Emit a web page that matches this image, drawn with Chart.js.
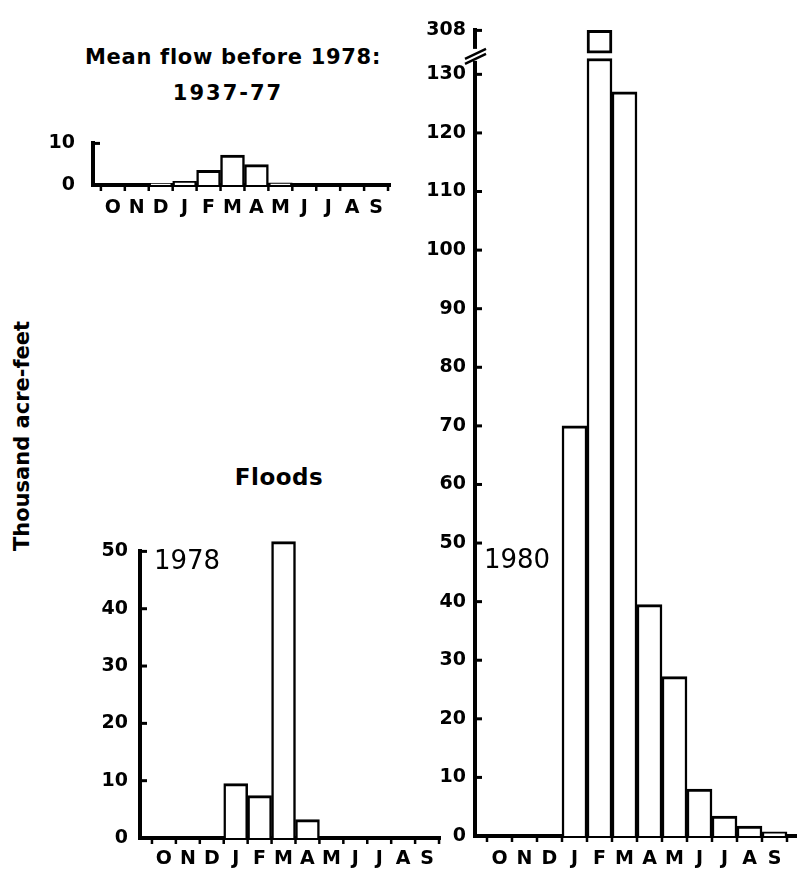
<!DOCTYPE html>
<html>
<head>
<meta charset="utf-8">
<script src="https://cdn.jsdelivr.net/npm/chart.js@4.4.1/dist/chart.umd.min.js"></script>
<style>
  body { margin: 0; background: #fff; }
  #wrap { position: relative; width: 797px; height: 870px; overflow: hidden; font-family: 'DejaVu Sans', sans-serif; color: #000; }
  canvas { position: absolute; }
  .lbl { position: absolute; white-space: nowrap; line-height: 1; transform: translate(-50%, -50%); }
  .b { font-weight: bold; }
</style>
</head>
<body>
<div id="wrap">
  <canvas id="cMean" style="left:40px;top:114px" width="355" height="106"></canvas>
  <canvas id="c1978" style="left:80px;top:528px" width="364" height="342"></canvas>
  <canvas id="c1980" style="left:415px;top:10px" width="382" height="860"></canvas>

  <div class="lbl b" style="left:233px;top:57px;font-size:21px;letter-spacing:0.7px">Mean flow before 1978:</div>
  <div class="lbl b" style="left:228px;top:93px;font-size:21px;letter-spacing:2px">1937-77</div>
  <div class="lbl b" style="left:279px;top:477px;font-size:23px;letter-spacing:0.5px">Floods</div>
  <div class="lbl" style="left:187px;top:560px;font-size:26px">1978</div>
  <div class="lbl" style="left:517px;top:559px;font-size:26px">1980</div>
  <div class="lbl b" style="left:22px;top:436px;font-size:21px;transform:translate(-50%,-50%) rotate(-90deg)">Thousand acre-feet</div>
</div>

<script>
// water years, October to September
const MONTHS = ['O','N','D','J','F','M','A','M','J','J','A','S'];

// thousand acre-feet per month
const MEAN_FLOW  = [0, 0, 0.4, 0.9, 3.5, 7.2, 4.9, 0.5, 0, 0, 0, 0];
const FLOOD_1978 = [0, 0, 0, 9.5, 7.4, 51.7, 3.2, 0, 0, 0, 0, 0];
const FLOOD_1980 = [0, 0, 0, 70, 308, 127, 39.5, 27.2, 8, 3.4, 1.7, 0.7];

const MEAN_TICKS = [0, 10];
const TICKS_1978 = [0, 10, 20, 30, 40, 50];
const TICKS_1980 = [0, 10, 20, 30, 40, 50, 60, 70, 80, 90, 100, 110, 120, 130];

// broken axis on the 1980 panel: top tick shows 308
const TOP_LABEL  = 308;
const TOP_POS    = 137.5;
const BREAK_LOW  = 132.7;
const BREAK_HIGH = 133.6;

const BOLD = { family: 'DejaVu Sans', weight: 'bold', size: 19 };

// inward y ticks and month-edge ticks under the x axis
const axisMarks = {
  id: 'axisMarks',
  afterDraw(chart) {
    const { ctx, chartArea: a, scales: { x, y } } = chart;
    ctx.save();
    ctx.strokeStyle = '#000';
    ctx.lineWidth = 3;
    y.ticks.forEach(t => {
      if (t.value === 0) return;
      const py = y.getPixelForValue(t.value);
      ctx.beginPath(); ctx.moveTo(a.left, py); ctx.lineTo(a.left + 7, py); ctx.stroke();
    });
    ctx.lineWidth = 2.5;
    for (let i = 0; i <= MONTHS.length; i++) {
      const px = x.getPixelForValue(i);
      ctx.beginPath(); ctx.moveTo(px, a.bottom); ctx.lineTo(px, a.bottom + 6); ctx.stroke();
    }
    ctx.restore();
  }
};

const axisBreak = {
  id: 'axisBreak',
  afterDraw(chart) {
    const { ctx, chartArea: a, scales: { y } } = chart;
    const py = y.getPixelForValue((BREAK_LOW + BREAK_HIGH) / 2);
    ctx.save();
    ctx.fillStyle = '#fff';
    ctx.fillRect(a.left - 4, py - 7, 8, 12);
    ctx.strokeStyle = '#000';
    ctx.lineWidth = 2.5;
    ctx.beginPath();
    ctx.moveTo(a.left - 10, py + 8); ctx.lineTo(a.left + 11, py - 2);
    ctx.moveTo(a.left - 10, py + 3); ctx.lineTo(a.left + 11, py - 7);
    ctx.stroke();
    ctx.restore();
  }
};

// empty months draw nothing (the axis line is already there)
function barData(values) {
  return values.map((v, i) => ({ x: i + 0.5, y: v === 0 ? null : v }));
}

function panel(id, cfg) {
  const datasets = cfg.datasets.map(d => Object.assign({
    backgroundColor: '#fff',
    borderColor: '#000',
    borderWidth: { top: 3, left: 2.5, right: 2.5, bottom: 0 },
    barPercentage: 1,
    categoryPercentage: 1,
    grouped: false,
    clip: false
  }, d));

  return new Chart(document.getElementById(id), {
    type: 'bar',
    data: { datasets },
    plugins: [axisMarks].concat(cfg.extra || []),
    options: {
      responsive: false,
      animation: false,
      events: [],
      layout: { padding: { top: cfg.padTop, right: cfg.padRight, left: 0, bottom: 0 } },
      plugins: { legend: { display: false }, tooltip: { enabled: false } },
      scales: {
        x: {
          type: 'linear',
          offset: false,
          min: cfg.xMin, max: cfg.xMax,
          afterBuildTicks: s => { s.ticks = MONTHS.map((m, i) => ({ value: i + 0.5 })); },
          afterFit: s => { s.height = cfg.xH; },
          ticks: { callback: (v, i) => MONTHS[i], autoSkip: false, maxRotation: 0,
                   color: '#000', font: BOLD, padding: cfg.xPad },
          grid: { display: false, drawTicks: false },
          border: { display: true, color: '#000', width: 4 }
        },
        y: {
          min: 0, max: cfg.yMax,
          afterBuildTicks: s => { s.ticks = cfg.yTicks.map(v => ({ value: v })); },
          afterFit: s => { s.width = cfg.yW; },
          ticks: { callback: cfg.yLabel || (v => v), color: '#000', font: BOLD, padding: cfg.yPad },
          grid: { display: false, drawTicks: false },
          border: { display: true, color: '#000', width: 4 }
        }
      }
    }
  });
}

panel('cMean', {
  datasets: [{ data: barData(MEAN_FLOW) }],
  padTop: 14, padRight: 2, yW: 53, xH: 35,
  xMin: -0.33, xMax: 12.12, xPad: 12,
  yMax: 10, yTicks: MEAN_TICKS, yPad: 18
});

panel('c1978', {
  datasets: [{ data: barData(FLOOD_1978) }],
  padTop: 14, padRight: 2, yW: 60, xH: 32,
  xMin: -0.5, xMax: 12.08, xPad: 10,
  yMax: 50, yTicks: TICKS_1978, yPad: 12
});

panel('c1980', {
  datasets: [
    { data: barData(FLOOD_1980.map(v => Math.min(v, BREAK_LOW))) },
    { data: FLOOD_1980.map((v, i) => ({ x: i + 0.5,
        y: v > BREAK_LOW ? [BREAK_HIGH, TOP_POS - (TOP_LABEL - v)] : null })),
      borderWidth: 3, borderSkipped: false }
  ],
  extra: [axisBreak],
  padTop: 15, padRight: 0, yW: 60, xH: 34,
  xMin: -0.48, xMax: 12.4, xPad: 12,
  yMax: TOP_POS, yTicks: TICKS_1980.concat([TOP_POS]), yPad: 9,
  yLabel: v => v === TOP_POS ? String(TOP_LABEL) : v
});
</script>
</body>
</html>
